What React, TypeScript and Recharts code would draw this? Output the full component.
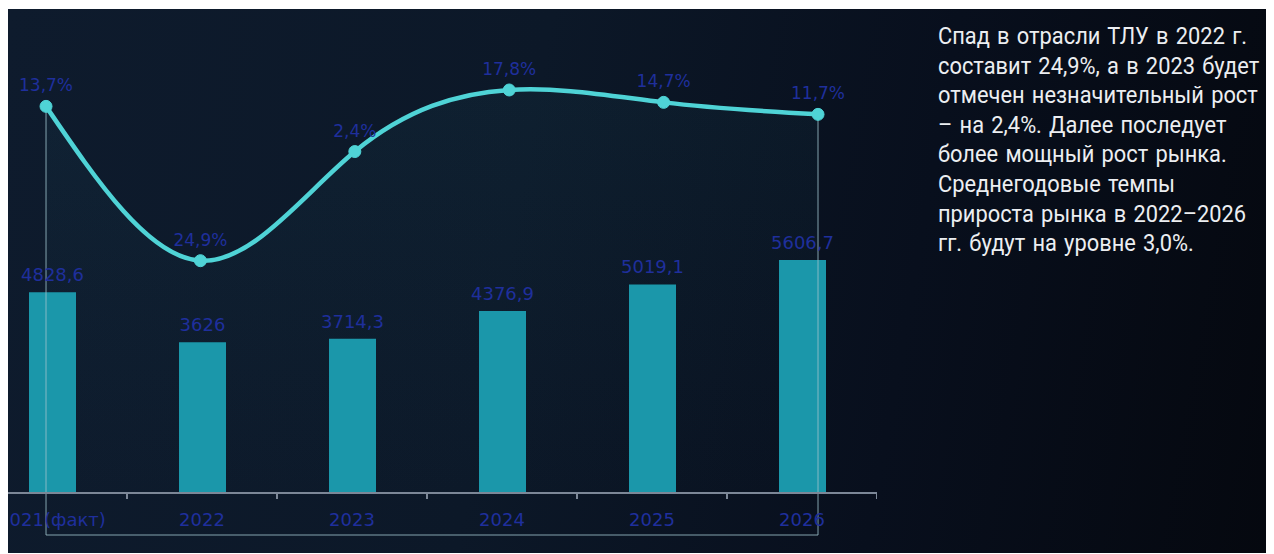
import React from "react";
import {
  ComposedChart,
  Bar,
  Line,
  Area,
  XAxis,
  YAxis,
  LabelList,
  ReferenceLine,
} from "recharts";

// market volume by year, and year-on-year growth (%)
const years = ["2021(факт)", "2022", "2023", "2024", "2025", "2026"];
const volume = [4828.6, 3626, 3714.3, 4376.9, 5019.1, 5606.7];
const growth = [13.7, -24.9, 2.4, 17.8, 14.7, 11.7];

const noteLines = [
  "Спад в отрасли ТЛУ в 2022 г.",
  "составит 24,9%, а в 2023 будет",
  "отмечен незначительный рост",
  "– на 2,4%. Далее последует",
  "более мощный рост рынка.",
  "Среднегодовые темпы",
  "прироста рынка в 2022–2026",
  "гг. будут на уровне 3,0%.",
];

const chartData = years.map((year, i) => ({
  year,
  idx: i,
  volume: volume[i],
  growth: growth[i],
}));

// axis ticks: labels at band centres, small marks at band edges
const axisTicks = years.flatMap((_, i) => [i + 0.5, i + 1]);

const LABEL_BLUE = "#1f2f9c";
const CYAN = "#4fd3d6";
const FONT = "'DejaVu Sans', sans-serif";

const fmtNum = (v: number) => String(v).replace(".", ",");
const fmtPct = (v: number) => `${String(Math.abs(v)).replace(".", ",")}%`;

const AxisTick = (props: any) => {
  const { x, y, payload } = props;
  const v = payload.value as number;
  if (Number.isInteger(v)) {
    return <line x1={x} x2={x} y1={y} y2={y + 6} stroke="#7c8797" strokeWidth={2} />;
  }
  return (
    <text
      x={x}
      y={y + 26}
      textAnchor="middle"
      dominantBaseline="central"
      fill={LABEL_BLUE}
      fontSize={18}
      fontFamily={FONT}
    >
      {years[v - 0.5]}
    </text>
  );
};

const FRAME_BASE = -93.5;

export default function App() {
  return (
    <div
      style={{
        position: "relative",
        left: -1,
        top: 1,
        width: 1267,
        height: 545,
        overflow: "hidden",
        background:
          "linear-gradient(100deg, #0e1b2d 0%, #0c1828 40%, #080f1d 70%, #05080f 100%)",
      }}
    >
      <div style={{ position: "absolute", left: -30, top: 0 }}>
        <ComposedChart
          width={900}
          height={545}
          data={chartData}
          margin={{ top: 31, right: 0, bottom: 0, left: 0 }}
        >
          <defs>
            <linearGradient id="underCurve" x1="0" y1="0" x2="0" y2="1">
              <stop offset="0%" stopColor="#3fb6c8" stopOpacity={0.08} />
              <stop offset="100%" stopColor="#3fb6c8" stopOpacity={0.01} />
            </linearGradient>
          </defs>
          <XAxis
            xAxisId="grid"
            type="number"
            dataKey="idx"
            domain={[0, years.length]}
            allowDataOverflow
            ticks={axisTicks}
            interval={0}
            tick={<AxisTick />}
            tickLine={false}
            tickSize={0}
            tickMargin={0}
            axisLine={{ stroke: "#7c8797", strokeWidth: 2 }}
            height={61}
          />
          <XAxis xAxisId="bars" dataKey="year" type="category" hide height={0} />
          <XAxis
            xAxisId="rate"
            dataKey="idx"
            type="number"
            domain={[-0.447, 5.382]}
            allowDataOverflow
            hide
            height={0}
          />
          <YAxis yAxisId="bars" domain={[0, 10900]} hide />
          <YAxis yAxisId="rate" domain={[-83, 30.3]} allowDataOverflow hide />

          <Area
            xAxisId="rate"
            yAxisId="rate"
            dataKey="growth"
            type="natural"
            baseValue="dataMin"
            stroke="none"
            fill="url(#underCurve)"
            isAnimationActive={false}
          />
          <Bar
            xAxisId="bars"
            yAxisId="bars"
            dataKey="volume"
            barSize={47}
            fill="#1b97aa"
            isAnimationActive={false}
          >
            <LabelList
              dataKey="volume"
              position="top"
              offset={11}
              formatter={fmtNum}
              fill={LABEL_BLUE}
              fontSize={18}
              fontFamily={FONT}
            />
          </Bar>
          <ReferenceLine
            xAxisId="rate"
            yAxisId="rate"
            ifOverflow="visible"
            segment={[
              { x: 0, y: growth[0] },
              { x: 0, y: FRAME_BASE },
            ]}
            stroke="#9fc3cc"
            strokeOpacity={0.55}
            strokeWidth={1.5}
          />
          <ReferenceLine
            xAxisId="rate"
            yAxisId="rate"
            ifOverflow="visible"
            segment={[
              { x: years.length - 1, y: growth[years.length - 1] },
              { x: years.length - 1, y: FRAME_BASE },
            ]}
            stroke="#9fc3cc"
            strokeOpacity={0.55}
            strokeWidth={1.5}
          />
          <ReferenceLine
            xAxisId="rate"
            yAxisId="rate"
            ifOverflow="visible"
            segment={[
              { x: 0, y: FRAME_BASE },
              { x: years.length - 1, y: FRAME_BASE },
            ]}
            stroke="#9fc3cc"
            strokeOpacity={0.55}
            strokeWidth={1.5}
          />
          <Line
            xAxisId="rate"
            yAxisId="rate"
            dataKey="growth"
            type="natural"
            stroke={CYAN}
            strokeWidth={4.5}
            dot={{ r: 6, fill: CYAN, stroke: CYAN, strokeWidth: 1 }}
            activeDot={false}
            isAnimationActive={false}
          >
            <LabelList
              dataKey="growth"
              position="top"
              offset={15}
              formatter={fmtPct}
              fill={LABEL_BLUE}
              fontSize={17}
              fontFamily={FONT}
            />
          </Line>
        </ComposedChart>
      </div>

      <div
        style={{
          position: "absolute",
          left: 931,
          top: 13,
          color: "#eceef1",
          fontFamily: "Roboto, sans-serif",
          fontSize: 24,
          lineHeight: "29.6px",
          whiteSpace: "pre",
          wordSpacing: 2,
          transform: "scaleX(0.91)",
          transformOrigin: "left top",
        }}
      >
        {noteLines.map((l) => (
          <div key={l}>{l}</div>
        ))}
      </div>
    </div>
  );
}
